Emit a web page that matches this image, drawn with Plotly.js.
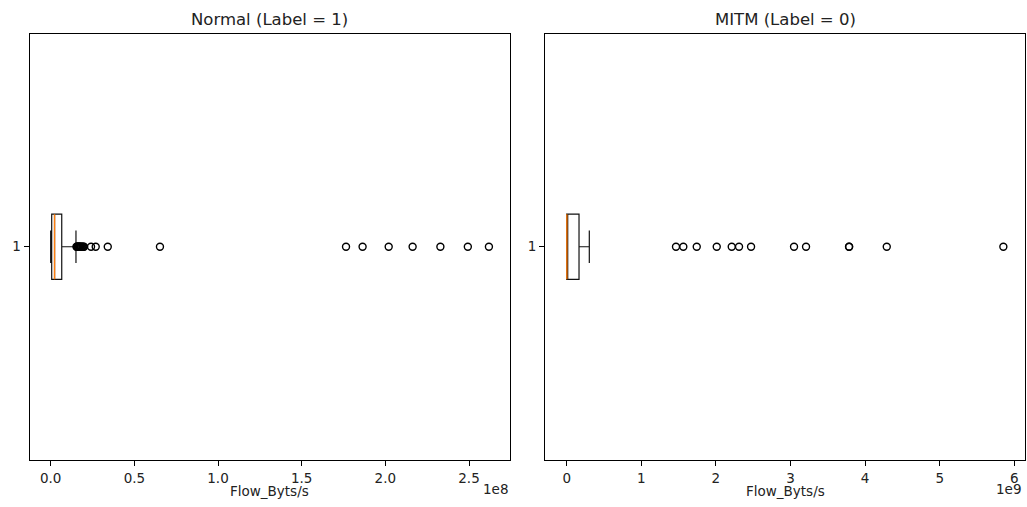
<!DOCTYPE html>
<html>
<head>
<meta charset="utf-8">
<script src="https://cdn.plot.ly/plotly-3.0.1.min.js"></script>
<style>html,body{margin:0;padding:0;background:#fff;}#chart{width:1027px;height:507px;}</style>
</head>
<body>
<div id="chart"></div>
<script>
// ---- Data (Flow_Byts/s) ----
const panelTitles = ["Normal (Label = 1)", "MITM (Label = 0)"];
const xLabel = "Flow_Byts/s";
const yCategory = [1];

// Normal (Label = 1) box statistics
const normalStats = { lowerfence: 0, q1: 0.6e6, median: 2.3e6, q3: 6.6e6, upperfence: 15.1e6 };
const normalOutliers = [15.4e6, 15.7e6, 16.0e6, 16.3e6, 16.6e6, 16.9e6, 17.2e6, 17.6e6, 18.0e6, 18.4e6,
  18.9e6, 19.5e6, 19.9e6, 24.1e6, 26.9e6, 34.1e6, 65.3e6,
  176.5e6, 186.4e6, 202.0e6, 216.3e6, 232.9e6, 249.3e6, 261.9e6];

// MITM (Label = 0) box statistics
const mitmStats = { lowerfence: 0, q1: 0, median: 0.002e9, q3: 0.165e9, upperfence: 0.303e9 };
const mitmOutliers = [1.465e9, 1.563e9, 1.743e9, 2.011e9, 2.212e9, 2.310e9, 2.471e9,
  3.047e9, 3.208e9, 3.784e9, 3.786e9, 4.290e9, 5.853e9];

// Tick labels
const normalTickVals = [0, 0.5e8, 1.0e8, 1.5e8, 2.0e8, 2.5e8];
const normalTickText = ["0.0", "0.5", "1.0", "1.5", "2.0", "2.5"];
const mitmTickVals = [0, 1e9, 2e9, 3e9, 4e9, 5e9, 6e9];
const mitmTickText = ["0", "1", "2", "3", "4", "5", "6"];

// ---- Styling ----
const FONT = "DejaVu Sans, sans-serif";
const BOXW = 0.153;

function boxTrace(s, xa, ya) {
  return {
    type: "box", orientation: "h", y: yCategory,
    q1: [s.q1], median: [s.median], q3: [s.q3],
    lowerfence: [s.lowerfence], upperfence: [s.upperfence],
    boxpoints: false, width: BOXW, whiskerwidth: 0.5,
    fillcolor: "rgba(255,255,255,0)",
    line: { color: "#111111", width: 1.2 },
    xaxis: xa, yaxis: ya, showlegend: false, hoverinfo: "skip"
  };
}
function medianTrace(s, xa, ya) {
  return {
    type: "box", orientation: "h", y: yCategory,
    q1: [s.median], median: [s.median], q3: [s.median],
    lowerfence: [s.median], upperfence: [s.median],
    boxpoints: false, width: BOXW, whiskerwidth: 0,
    fillcolor: "rgba(255,255,255,0)",
    line: { color: "#ff7f0e", width: 1.4 },
    xaxis: xa, yaxis: ya, showlegend: false, hoverinfo: "skip"
  };
}
function outlierTrace(vals, xa, ya) {
  return {
    type: "scatter", mode: "markers",
    x: vals, y: vals.map(() => yCategory[0]),
    marker: { symbol: "circle-open", size: 7, color: "#000000", line: { color: "#000000", width: 1.4 } },
    xaxis: xa, yaxis: ya, showlegend: false, hoverinfo: "skip"
  };
}

const traces = [
  boxTrace(normalStats, "x", "y"),
  medianTrace(normalStats, "x", "y"),
  outlierTrace(normalOutliers, "x", "y"),
  boxTrace(mitmStats, "x2", "y2"),
  medianTrace(mitmStats, "x2", "y2"),
  outlierTrace(mitmOutliers, "x2", "y2")
];

const W = 1027, H = 507;
const xd1 = [29.5 / W, 510 / W];
const xd2 = [545 / W, 1025 / W];
const yd = [1 - 459.5 / H, 1 - 34 / H];

const axisCommon = {
  showline: true, mirror: true, linecolor: "#000000", linewidth: 1,
  ticks: "outside", ticklen: 5, tickwidth: 1, tickcolor: "#000000",
  showgrid: false, zeroline: false, fixedrange: true,
  tickfont: { family: FONT, size: 13.5, color: "#222222" }
};

const layout = {
  width: W, height: H, autosize: false,
  margin: { l: 0, r: 0, t: 0, b: 0, pad: 0 },
  paper_bgcolor: "#ffffff", plot_bgcolor: "#ffffff",
  font: { family: FONT, color: "#222222" },
  boxmode: "overlay",
  xaxis: Object.assign({}, axisCommon, { domain: xd1, anchor: "y", range: [-0.1267e8, 2.745e8], tickmode: "array", tickvals: normalTickVals, ticktext: normalTickText, ticklabelstandoff: 1 }),
  yaxis: Object.assign({}, axisCommon, { domain: yd, anchor: "x", range: [0.5, 1.5], tickmode: "array", tickvals: yCategory, ticktext: yCategory.map(String) }),
  xaxis2: Object.assign({}, axisCommon, { domain: xd2, anchor: "y2", range: [-0.291e9, 6.143e9], tickmode: "array", tickvals: mitmTickVals, ticktext: mitmTickText, ticklabelstandoff: 1 }),
  yaxis2: Object.assign({}, axisCommon, { domain: yd, anchor: "x2", range: [0.5, 1.5], tickmode: "array", tickvals: yCategory, ticktext: yCategory.map(String) }),
  annotations: [
    { text: panelTitles[0], xref: "paper", yref: "paper", x: (xd1[0] + xd1[1]) / 2, y: 1 - 20 / H, xanchor: "center", yanchor: "middle", showarrow: false, font: { family: FONT, size: 16.5, color: "#222222" } },
    { text: panelTitles[1], xref: "paper", yref: "paper", x: (xd2[0] + xd2[1]) / 2, y: 1 - 20 / H, xanchor: "center", yanchor: "middle", showarrow: false, font: { family: FONT, size: 16.5, color: "#222222" } },
    { text: xLabel, xref: "paper", yref: "paper", x: (xd1[0] + xd1[1]) / 2, y: 1 - 491 / H, xanchor: "center", yanchor: "middle", showarrow: false, font: { family: FONT, size: 13.5, color: "#222222" } },
    { text: xLabel, xref: "paper", yref: "paper", x: (xd2[0] + xd2[1]) / 2, y: 1 - 491 / H, xanchor: "center", yanchor: "middle", showarrow: false, font: { family: FONT, size: 13.5, color: "#222222" } },
    { text: "1e8", xref: "paper", yref: "paper", x: xd1[1], y: 1 - 489 / H, xanchor: "right", yanchor: "middle", showarrow: false, font: { family: FONT, size: 13.5, color: "#222222" } },
    { text: "1e9", xref: "paper", yref: "paper", x: xd2[1] - 2 / W, y: 1 - 489 / H, xanchor: "right", yanchor: "middle", showarrow: false, font: { family: FONT, size: 13.5, color: "#222222" } }
  ]
};

Plotly.newPlot("chart", traces, layout, { displayModeBar: false, staticPlot: true });
</script>
</body>
</html>
